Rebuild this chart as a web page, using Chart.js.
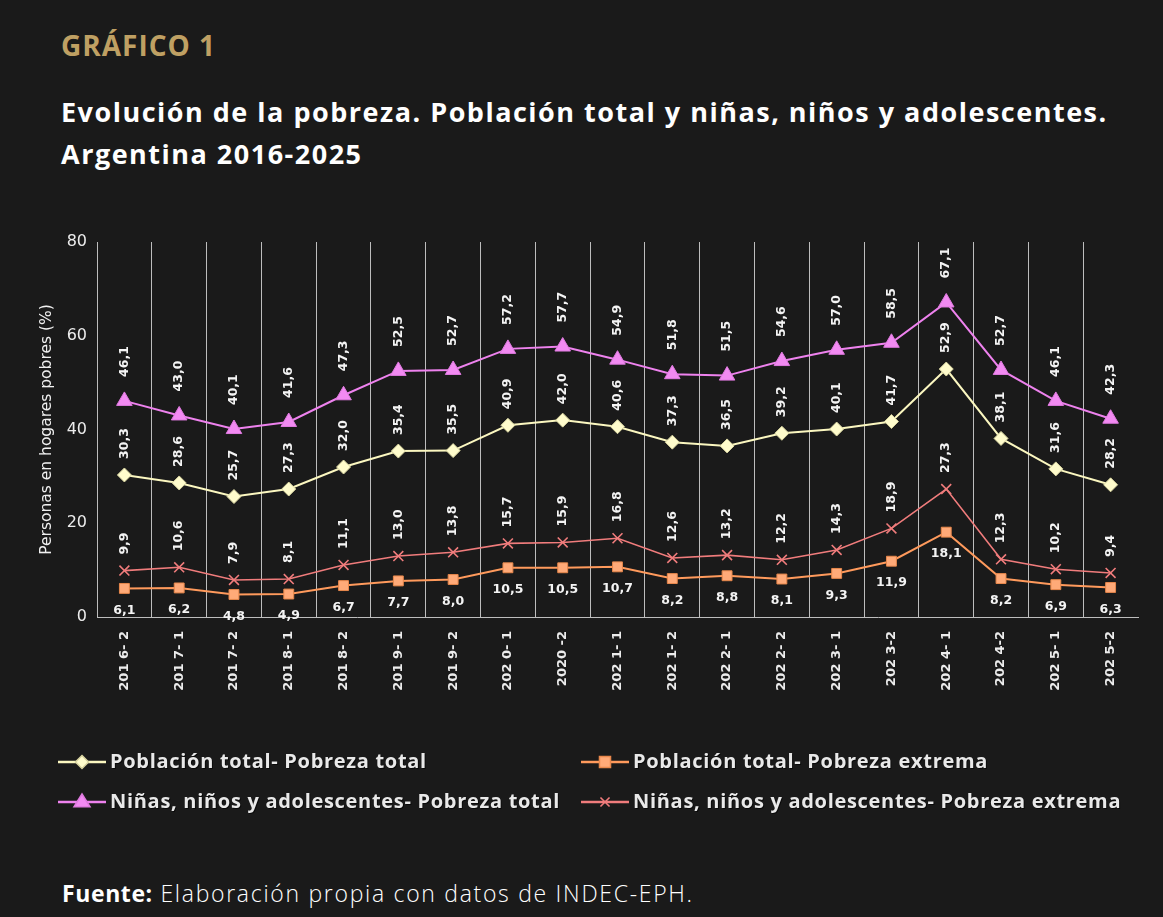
<!DOCTYPE html>
<html lang="es">
<head>
<meta charset="utf-8">
<title>Evolución de la pobreza</title>
<script src="https://cdn.jsdelivr.net/npm/chart.js@4.4.1/dist/chart.umd.min.js"></script>
<style>
    html, body { margin: 0; padding: 0; }
    body {
        width: 1163px;
        height: 917px;
        background: #1a1a1a;
        font-family: "Open Sans", sans-serif;
        position: relative;
        overflow: hidden;
    }
    .kicker {
        position: absolute; left: 61px; top: 26px;
        color: #bfa063; font-size: 28px; font-weight: 700; letter-spacing: 1px;
    }
    .title {
        position: absolute; left: 61px; top: 91px;
        color: #ffffff; font-size: 27px; font-weight: 700; line-height: 42px; letter-spacing: 1.5px;
    }
    .chart-wrap {
        position: absolute; left: 0; top: 230px; width: 1163px; height: 600px;
    }
    .source {
        position: absolute; left: 62px; top: 877px;
        color: #ffffff; font-size: 23px; font-weight: 300; letter-spacing: 1.7px;
    }
    .source b { font-weight: 700; letter-spacing: 0.6px; }
</style>
</head>
<body>
<div class="kicker">GRÁFICO 1</div>
<div class="title">Evolución de la pobreza. Población total y niñas, niños y adolescentes.<br>Argentina 2016-2025</div>
<div class="chart-wrap"><canvas id="povertyChart"></canvas></div>
<div class="source"><b>Fuente:</b> Elaboración propia con datos de INDEC-EPH.</div>

<script>
    const periods = ['201 6- 2', '201 7- 1', '201 7- 2', '201 8- 1', '201 8- 2', '201 9- 1', '201 9- 2', '202 0- 1', '2020 -2', '202 1- 1',
        '202 1- 2', '202 2- 1', '202 2- 2', '202 3- 1', '202 3-2', '202 4- 1', '202 4-2', '202 5- 1', '202 5-2'];
    const yTicks = [0, 20, 40, 60, 80];

    const poblacionTotal = [30.3, 28.6, 25.7, 27.3, 32.0, 35.4, 35.5, 40.9, 42.0, 40.6, 37.3, 36.5, 39.2, 40.1, 41.7, 52.9, 38.1, 31.6, 28.2];
    const poblacionExtrema = [6.1, 6.2, 4.8, 4.9, 6.7, 7.7, 8.0, 10.5, 10.5, 10.7, 8.2, 8.8, 8.1, 9.3, 11.9, 18.1, 8.2, 6.9, 6.3];
    const ninosTotal = [46.1, 43.0, 40.1, 41.6, 47.3, 52.5, 52.7, 57.2, 57.7, 54.9, 51.8, 51.5, 54.6, 57.0, 58.5, 67.1, 52.7, 46.1, 42.3];
    const ninosExtrema = [9.9, 10.6, 7.9, 8.1, 11.1, 13.0, 13.8, 15.7, 15.9, 16.8, 12.6, 13.2, 12.2, 14.3, 18.9, 27.3, 12.3, 10.2, 9.4];

    const seriesNames = [
        'Población total- Pobreza total',
        'Población total- Pobreza extrema',
        'Niñas, niños y adolescentes- Pobreza total',
        'Niñas, niños y adolescentes- Pobreza extrema'
    ];

    function formatValue(v) {
        return v.toFixed(1).replace('.', ',');
    }

    function drawMarker(ctx, style, x, y, r, fill, stroke) {
        ctx.save();
        ctx.fillStyle = fill;
        ctx.strokeStyle = stroke;
        ctx.lineWidth = 1.5;
        ctx.beginPath();
        if (style === 'rectRot') {
            ctx.moveTo(x, y - r); ctx.lineTo(x + r, y); ctx.lineTo(x, y + r); ctx.lineTo(x - r, y); ctx.closePath();
            ctx.fill(); ctx.stroke();
        } else if (style === 'rect') {
            const s = r * 0.85;
            ctx.rect(x - s, y - s, s * 2, s * 2);
            ctx.fill(); ctx.stroke();
        } else if (style === 'triangle') {
            ctx.moveTo(x, y - r); ctx.lineTo(x + r, y + r * 0.6); ctx.lineTo(x - r, y + r * 0.6); ctx.closePath();
            ctx.fill(); ctx.stroke();
        } else {
            const s = r * 0.7;
            ctx.lineWidth = 1.6;
            ctx.moveTo(x - s, y - s); ctx.lineTo(x + s, y + s);
            ctx.moveTo(x + s, y - s); ctx.lineTo(x - s, y + s);
            ctx.stroke();
        }
        ctx.restore();
    }

    // value labels: vertical above for most series, horizontal below for pop. extreme
    const valueLabels = {
        id: 'valueLabels',
        afterDatasetsDraw(chart) {
            const ctx = chart.ctx;
            chart.data.datasets.forEach(function(ds, i) {
                const meta = chart.getDatasetMeta(i);
                meta.data.forEach(function(pt, j) {
                    const text = formatValue(ds.data[j]);
                    ctx.save();
                    ctx.fillStyle = '#f4f4f4';
                    ctx.font = 'bold 12.5px "DejaVu Sans"';
                    if (ds.labelBelow) {
                        ctx.textAlign = 'center';
                        ctx.textBaseline = 'middle';
                        ctx.fillText(text, pt.x, pt.y + 22);
                    } else {
                        ctx.translate(pt.x, pt.y - ds.labelGap);
                        ctx.rotate(-Math.PI / 2);
                        ctx.textAlign = 'left';
                        ctx.textBaseline = 'middle';
                        ctx.fillText(text, 0, 0);
                    }
                    ctx.restore();
                });
            });
        }
    };

    // two-column legend under the axis
    const gridLegend = {
        id: 'gridLegend',
        afterDraw(chart) {
            const ctx = chart.ctx;
            const cols = [58, 581];
            const rows = [532, 572];
            chart.data.datasets.forEach(function(ds, i) {
                const x = cols[i % 2];
                const y = rows[Math.floor(i / 2)];
                ctx.save();
                ctx.strokeStyle = ds.borderColor;
                ctx.lineWidth = 2.5;
                ctx.beginPath();
                ctx.moveTo(x, y);
                ctx.lineTo(x + 48, y);
                ctx.stroke();
                drawMarker(ctx, ds.pointStyle, x + 24, y, ds.pointStyle === 'triangle' ? 8 : 6.5, ds.pointBackgroundColor, ds.pointBorderColor);
                ctx.font = '700 20px "Open Sans"';
                ctx.letterSpacing = '0.7px';
                ctx.fillStyle = '#e9e9e9';
                ctx.textAlign = 'left';
                ctx.textBaseline = 'middle';
                ctx.shadowColor = 'rgba(0,0,0,0.6)';
                ctx.shadowOffsetX = 1;
                ctx.shadowOffsetY = 1;
                ctx.fillText(ds.label, x + 52, y);
                ctx.restore();
            });
        }
    };

    new Chart(document.getElementById('povertyChart'), {
        type: 'line',
        data: {
            labels: periods,
            datasets: [
                { label: seriesNames[0], data: poblacionTotal, borderColor: '#fbf7c0', backgroundColor: '#fffccc',
                  pointStyle: 'rectRot', pointRadius: 7, pointBackgroundColor: '#fffccc', pointBorderColor: '#d8d4a0', pointBorderWidth: 1,
                  borderWidth: 2, labelGap: 16 },
                { label: seriesNames[1], data: poblacionExtrema, borderColor: '#ff9a5c', backgroundColor: '#ffaa78',
                  pointStyle: 'rect', pointRadius: 7, pointBackgroundColor: '#ffaa78', pointBorderColor: '#e8884c', pointBorderWidth: 1,
                  borderWidth: 2, labelBelow: true },
                { label: seriesNames[2], data: ninosTotal, borderColor: '#ee82ee', backgroundColor: '#f28af2',
                  pointStyle: 'triangle', pointRadius: 9, pointBackgroundColor: '#f28af2', pointBorderColor: '#e07ae0', pointBorderWidth: 1,
                  borderWidth: 2, labelGap: 24 },
                { label: seriesNames[3], data: ninosExtrema, borderColor: '#f07c7c', backgroundColor: '#f07c7c',
                  pointStyle: 'crossRot', pointRadius: 7, pointBackgroundColor: '#f07c7c', pointBorderColor: '#f07c7c', pointBorderWidth: 1.6,
                  borderWidth: 1.6, labelGap: 16 }
            ]
        },
        options: {
            responsive: true,
            maintainAspectRatio: false,
            animation: false,
            layout: { padding: { top: 12, right: 25, left: 0, bottom: 0 } },
            plugins: {
                legend: { display: false },
                tooltip: { enabled: false }
            },
            elements: { line: { tension: 0 } },
            scales: {
                x: {
                    offset: true,
                    afterFit: function(scale) { scale.height = 213; },
                    grid: {
                        offset: true,
                        drawTicks: false,
                        color: function(c) { return c.type === 'tick' ? '#bdbdbd' : 'rgba(0,0,0,0)'; },
                        lineWidth: 1
                    },
                    border: { display: true, color: '#bdbdbd', width: 1 },
                    ticks: {
                        autoSkip: false,
                        minRotation: 90,
                        maxRotation: 90,
                        padding: 14,
                        color: '#ececec',
                        font: { family: '"DejaVu Sans"', size: 13, weight: 'bold' }
                    }
                },
                y: {
                    min: 0,
                    max: 80,
                    afterFit: function(scale) {
                        scale.width = 97;
                        scale.paddingTop = 0;
                        scale.paddingBottom = 0;
                    },
                    afterBuildTicks: function(scale) { scale.ticks = yTicks.map(function(v) { return { value: v }; }); },
                    grid: { display: false, drawTicks: false },
                    border: { display: true, color: '#bdbdbd', width: 1 },
                    title: {
                        display: true,
                        text: 'Personas en hogares pobres (%)',
                        color: '#f0f0f0',
                        font: { family: '"DejaVu Sans"', size: 15.5, weight: 'normal' },
                        padding: { top: 38, bottom: 0 }
                    },
                    ticks: {
                        padding: 10,
                        color: '#ececec',
                        font: { family: '"DejaVu Sans"', size: 16, weight: 'normal' }
                    }
                }
            }
        },
        plugins: [valueLabels, gridLegend]
    });
</script>
</body>
</html>
